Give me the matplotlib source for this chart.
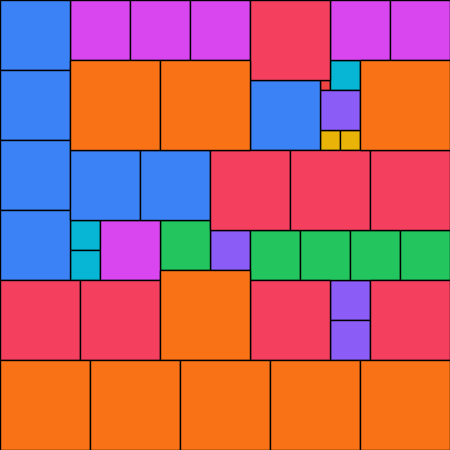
import matplotlib
matplotlib.use("Agg")
import matplotlib.pyplot as plt
from matplotlib.patches import Rectangle

# Square side length (in units) -> positions (x, y of top-left corner)
sizes = [1, 2, 3, 4, 5, 6, 7, 8, 9]
colors = ["#ef4444", "#eab308", "#06b6d4", "#8b5cf6", "#22c55e",
          "#d946ef", "#3b82f6", "#f43f5e", "#f97316"]
pos_1 = [(32, 8)]
pos_2 = [(32, 13), (34, 13)]
pos_3 = [(33, 6), (7, 22), (7, 25)]
pos_4 = [(32, 9), (21, 23), (33, 28), (33, 32)]
pos_5 = [(16, 22), (25, 23), (30, 23), (35, 23), (40, 23)]
pos_6 = [(7, 0), (13, 0), (19, 0), (33, 0), (39, 0), (10, 22)]
pos_7 = [(0, 0), (0, 7), (0, 14), (0, 21), (25, 8), (7, 15), (14, 15)]
pos_8 = [(25, 0), (21, 15), (29, 15), (37, 15), (0, 28), (8, 28), (25, 28), (37, 28)]
pos_9 = [(7, 6), (16, 6), (36, 6), (16, 27), (0, 36), (9, 36), (18, 36), (27, 36), (36, 36)]
positions = [pos_1, pos_2, pos_3, pos_4, pos_5, pos_6, pos_7, pos_8, pos_9]

total = 45

fig = plt.figure(figsize=(4.5, 4.5), dpi=100)
ax = fig.add_axes([0, 0, 1, 1])
for s, c, plist in zip(sizes, colors, positions):
    for (x, y) in plist:
        ax.add_patch(Rectangle((x, y), s, s, facecolor=c, edgecolor="black", linewidth=1.0))
ax.set_xlim(0, total)
ax.set_ylim(total, 0)
ax.set_axis_off()
fig.savefig("out.png", dpi=100)
